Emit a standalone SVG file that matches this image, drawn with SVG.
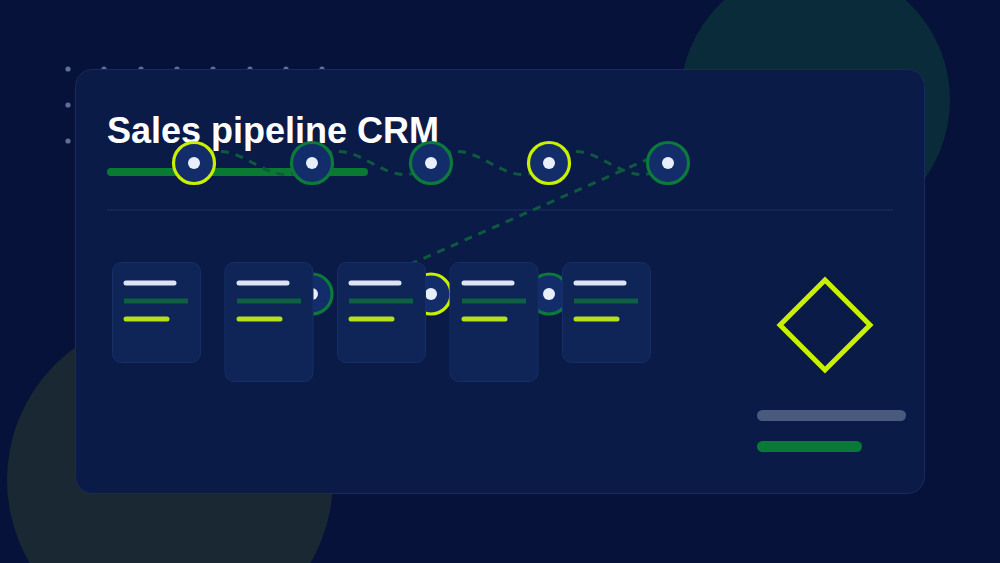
<svg xmlns="http://www.w3.org/2000/svg" width="1000" height="563" viewBox="0 0 1000 563">
<defs>
<style>
.stage{fill:#132d6a;stroke-width:3.2}
.g{stroke:#0b7a3a}
.y{stroke:#c8f000}
.dot{fill:#e8eefa}
.card{fill:#0f2457;stroke:#172e66;stroke-width:1}
.lw{stroke:#dde4f4;stroke-width:5;stroke-linecap:round}
.lg{stroke:#0e6040;stroke-width:5;stroke-linecap:butt}
.ly{stroke:#b6e01a;stroke-width:5;stroke-linecap:round}
.dash{fill:none;stroke:#0e5a3e;stroke-width:3;stroke-dasharray:8 7}
.gd{fill:#5f6e96}
</style>
</defs>
<rect width="1000" height="563" fill="#07123a"/>
<circle cx="815" cy="100" r="135" fill="#0a2c3a"/>
<circle cx="170" cy="480" r="163" fill="#1a2833"/>
<g id="dots">
<circle class="gd" cx="68" cy="69" r="2.6"/><circle class="gd" cx="104" cy="69" r="2.6"/><circle class="gd" cx="141" cy="69" r="2.6"/><circle class="gd" cx="177" cy="69" r="2.6"/><circle class="gd" cx="213" cy="69" r="2.6"/><circle class="gd" cx="250" cy="69" r="2.6"/><circle class="gd" cx="286" cy="69" r="2.6"/><circle class="gd" cx="322" cy="69" r="2.6"/>
<circle class="gd" cx="68" cy="105" r="2.6"/><circle class="gd" cx="68" cy="141" r="2.6"/>
</g>
<rect id="panel" x="75.5" y="69.5" width="849" height="424" rx="17" fill="#0b1b48" stroke="#1a2a5c" stroke-width="1"/>
<text x="107" y="143" font-family="Liberation Sans, Arial, sans-serif" font-size="36" font-weight="bold" fill="#ffffff">Sales pipeline CRM</text>
<line x1="107" y1="210" x2="893" y2="210" stroke="#1e2f62" stroke-width="1"/>
<line id="progress" x1="111" y1="172" x2="364" y2="172" stroke="#0a7a32" stroke-width="8" stroke-linecap="round"/>
<g id="connectors">
<path class="dash" d="M194,163 C238,123 268,203 312,163"/>
<path class="dash" d="M312,163 C356,123 387,203 431,163"/>
<path class="dash" d="M431,163 C475,123 505,203 549,163"/>
<path class="dash" d="M549,163 C593,123 624,203 668,163"/>
<path class="dash" d="M664,152 L395,271"/>
</g>
<g id="stage-row">
<g id="stage1"><circle class="stage y" cx="194" cy="163" r="20.5"/><circle class="dot" cx="194" cy="163" r="6"/></g>
<g id="stage2"><circle class="stage g" cx="312" cy="163" r="20.5"/><circle class="dot" cx="312" cy="163" r="6"/></g>
<g id="stage3"><circle class="stage g" cx="431" cy="163" r="20.5"/><circle class="dot" cx="431" cy="163" r="6"/></g>
<g id="stage4"><circle class="stage y" cx="549" cy="163" r="20.5"/><circle class="dot" cx="549" cy="163" r="6"/></g>
<g id="stage5"><circle class="stage g" cx="668" cy="163" r="20.5"/><circle class="dot" cx="668" cy="163" r="6"/></g>
</g>
<g id="card-row-markers">
<g id="marker2"><circle class="stage g" cx="312" cy="294" r="20"/><circle class="dot" cx="312" cy="294" r="6"/></g>
<g id="marker3"><circle class="stage y" cx="431" cy="294" r="20"/><circle class="dot" cx="431" cy="294" r="6"/></g>
<g id="marker4"><circle class="stage g" cx="549" cy="294" r="20"/><circle class="dot" cx="549" cy="294" r="6"/></g>
</g>
<g id="card1"><rect class="card" x="112.5" y="262.5" width="88" height="100" rx="9"/><line class="lw" x1="126" y1="283" x2="174" y2="283"/><line class="lg" x1="124" y1="301" x2="188" y2="301"/><line class="ly" x1="126" y1="319" x2="167" y2="319"/></g>
<g id="card2"><rect class="card" x="225" y="262.5" width="88" height="119" rx="9"/><line class="lw" x1="239" y1="283" x2="287" y2="283"/><line class="lg" x1="237" y1="301" x2="301" y2="301"/><line class="ly" x1="239" y1="319" x2="280" y2="319"/></g>
<g id="card3"><rect class="card" x="337.5" y="262.5" width="88" height="100" rx="9"/><line class="lw" x1="351" y1="283" x2="399" y2="283"/><line class="lg" x1="349" y1="301" x2="413" y2="301"/><line class="ly" x1="351" y1="319" x2="392" y2="319"/></g>
<g id="card4"><rect class="card" x="450" y="262.5" width="88" height="119" rx="9"/><line class="lw" x1="464" y1="283" x2="512" y2="283"/><line class="lg" x1="462" y1="301" x2="526" y2="301"/><line class="ly" x1="464" y1="319" x2="505" y2="319"/></g>
<g id="card5"><rect class="card" x="562.5" y="262.5" width="88" height="100" rx="9"/><line class="lw" x1="576" y1="283" x2="624" y2="283"/><line class="lg" x1="574" y1="301" x2="638" y2="301"/><line class="ly" x1="576" y1="319" x2="617" y2="319"/></g>
<g id="summary">
<polygon points="825,280 870,325 825,370 780,325" fill="none" stroke="#c8f000" stroke-width="5"/>
<line x1="762.5" y1="415.5" x2="900.5" y2="415.5" stroke="#4a5a7f" stroke-width="11" stroke-linecap="round"/>
<line x1="762.5" y1="446.5" x2="856.5" y2="446.5" stroke="#087a35" stroke-width="11" stroke-linecap="round"/>
</g>
</svg>
